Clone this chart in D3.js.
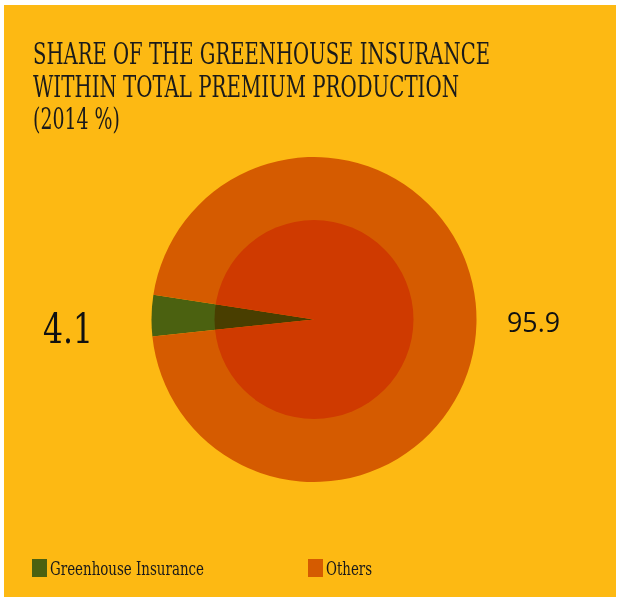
<!DOCTYPE html>
<html><head><meta charset="utf-8">
<script src="https://cdn.jsdelivr.net/npm/d3@7/dist/d3.min.js"></script>
<style>body{margin:0;background:#fff}svg{display:block}</style>
</head><body>
<svg id="c" width="620" height="600"></svg>
<script>
const categories = ["Greenhouse Insurance", "Others"];
const values = [4.1, 95.9];
const labels = ["4.1", "95.9"];
const colors = ["#4B6110", "#D55B00"];
const titleLines = ["SHARE OF THE GREENHOUSE INSURANCE", "WITHIN TOTAL PREMIUM PRODUCTION", "(2014 %)"];

const svg = d3.select("#c");
svg.append("rect").attr("x", 4).attr("y", 5).attr("width", 612).attr("height", 592).attr("fill", "#FDB913");

const serif = "'DejaVu Serif Condensed','DejaVu Serif',serif";
const titleW = [457, 426, 87];
titleLines.forEach((t, i) => {
  svg.append("text").attr("x", 33).attr("y", 64 + i * 32.5)
    .attr("font-family", serif).attr("font-size", 30).attr("fill", "#1a1a1a")
    .attr("textLength", titleW[i]).attr("lengthAdjust", "spacingAndGlyphs")
    .text(t);
});

const cx = 314, cy = 319.5, R = 162.5, r = 99.5;
const g = svg.append("g").attr("transform", `translate(${cx},${cy})`);
const start = 264 * Math.PI / 180;
const pie = d3.pie().sort(null).startAngle(start).endAngle(start + 2 * Math.PI);
const arcs = pie(values);
const arc = d3.arc().innerRadius(0).outerRadius(R);
g.selectAll("path.s").data(arcs).join("path").attr("class", "s")
  .attr("d", arc).attr("fill", (d, i) => colors[i]);
g.append("circle").attr("r", r).attr("fill", "rgb(248,162,0)")
  .style("mix-blend-mode", "multiply");

// value labels
svg.append("text").attr("x", 43).attr("y", 343).attr("font-family", serif)
  .attr("font-size", 41).attr("fill", "#111")
  .attr("textLength", 50).attr("lengthAdjust", "spacingAndGlyphs").text(labels[0]);
svg.append("text").attr("x", 507).attr("y", 332).attr("font-family", "'Open Sans',sans-serif")
  .attr("font-size", 27).attr("fill", "#111")
  .attr("textLength", 53).attr("lengthAdjust", "spacingAndGlyphs").text(labels[1]);

// legend
const legX = [32, 308], legTW = [154, 46];
categories.forEach((c, i) => {
  svg.append("rect").attr("x", legX[i]).attr("y", 559).attr("width", 15).attr("height", 18).attr("fill", colors[i]);
  svg.append("text").attr("x", legX[i] + 18).attr("y", 575).attr("font-family", serif)
    .attr("font-size", 18.5).attr("fill", "#1a1a1a")
    .attr("textLength", legTW[i]).attr("lengthAdjust", "spacingAndGlyphs").text(c);
});
</script>
</body></html>
